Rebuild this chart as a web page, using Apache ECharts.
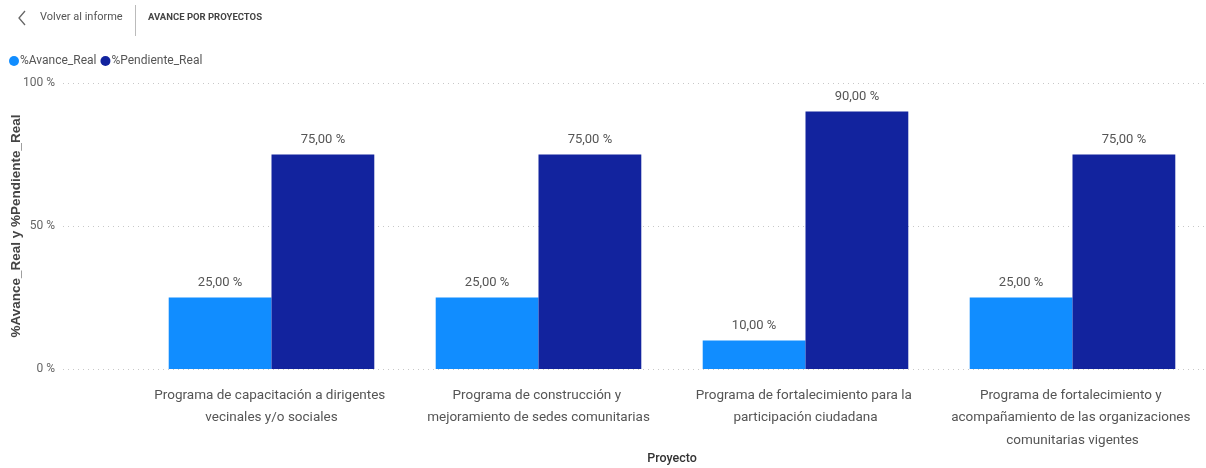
<!DOCTYPE html>
<html>
<head>
<meta charset="utf-8">
<script src="https://cdn.jsdelivr.net/npm/echarts@6/dist/echarts.min.js"></script>
<style>
  html, body { margin: 0; padding: 0; background: #fff; }
  #chart { width: 1206px; height: 468px; }
</style>
</head>
<body>
<div id="chart"></div>
<script>
// Projects (categories) and their progress percentages
const proyectos = [
  'Programa de capacitación a dirigentes vecinales y/o sociales',
  'Programa de construcción y mejoramiento de sedes comunitarias',
  'Programa de fortalecimiento para la participación ciudadana',
  'Programa de fortalecimiento y acompañamiento de las organizaciones comunitarias vigentes'
];
const avanceReal = [25, 25, 10, 25];
const pendienteReal = [75, 75, 90, 75];
const yTicks = [0, 50, 100];

const FONT = 'Roboto, "Open Sans", sans-serif';
const fmtPct = v => v.toFixed(2).replace('.', ',') + ' %';

const chart = echarts.init(document.getElementById('chart'), null, { renderer: 'canvas' });

chart.setOption({
  animation: false,
  textStyle: { fontFamily: FONT },
  legend: {
    left: 4, top: 50,
    icon: 'circle',
    itemWidth: 10, itemHeight: 10, itemGap: 4,
    textStyle: { fontSize: 12, color: '#555', padding: [0, 0, 0, -4] },
    data: ['%Avance_Real', '%Pendiente_Real']
  },
  graphic: [
    { type: 'polyline', shape: { points: [[25, 11], [19, 18], [25, 25]] },
      style: { stroke: '#666', lineWidth: 1.3, fill: null } },
    { type: 'text', left: 40, top: 12,
      style: { text: 'Volver al informe', fontSize: 11, fill: '#555', fontFamily: FONT } },
    { type: 'line', shape: { x1: 135.5, y1: 5, x2: 135.5, y2: 36 },
      style: { stroke: '#bbb', lineWidth: 1 } },
    { type: 'text', left: 148, top: 13,
      style: { text: 'AVANCE POR PROYECTOS', fontSize: 9.5, fontWeight: 'bold', fill: '#444', fontFamily: FONT } }
  ],
  grid: [
    { left: 63, right: 0, top: 83, bottom: 99, outerBoundsMode: 'none' },
    { left: 138, right: 0, top: 83, bottom: 99, outerBoundsMode: 'none' }
  ],
  xAxis: [
    { type: 'value', gridIndex: 0, show: false, min: 0, max: 1 },
    {
      type: 'category', gridIndex: 1, data: proyectos,
      axisLine: { show: false }, axisTick: { show: false },
      axisLabel: {
        interval: 0, width: 262, overflow: 'break', margin: 15,
        fontSize: 13.5, lineHeight: 22.5, color: '#555', align: 'center'
      },
      name: 'Proyecto', nameLocation: 'middle', nameGap: 83, nameMoveOverlap: false,
      nameTextStyle: { fontSize: 12.5, color: '#333', fontWeight: 500 }
    }
  ],
  yAxis: [
    {
      type: 'value', gridIndex: 0, min: 0, max: 100, interval: 50,
      axisLine: { show: false }, axisTick: { show: false },
      axisLabel: {
        margin: 8, fontSize: 12, color: '#666',
        formatter: v => yTicks.includes(v) ? v + ' %' : ''
      },
      splitLine: { lineStyle: { type: [1, 4], color: '#c8c8c8', width: 1 } },
      name: '%Avance_Real y %Pendiente_Real', nameLocation: 'middle', nameGap: 40, nameMoveOverlap: false,
      nameTextStyle: { fontSize: 13.5, color: '#444', fontWeight: 'bold', fontFamily: 'Arial, "Liberation Sans", sans-serif' }
    },
    { type: 'value', gridIndex: 1, min: 0, max: 100, show: false }
  ],
  series: [
    {
      name: '%Avance_Real', type: 'bar', xAxisIndex: 1, yAxisIndex: 1,
      data: avanceReal, barGap: '0%', barCategoryGap: '23%',
      itemStyle: { color: '#118DFF' },
      label: { show: true, position: 'top', distance: 8, fontSize: 13, color: '#555', formatter: p => fmtPct(p.value) }
    },
    {
      name: '%Pendiente_Real', type: 'bar', xAxisIndex: 1, yAxisIndex: 1,
      data: pendienteReal, barGap: '0%', barCategoryGap: '23%',
      itemStyle: { color: '#12239E' },
      label: { show: true, position: 'top', distance: 8, fontSize: 13, color: '#555', formatter: p => fmtPct(p.value) }
    }
  ]
});
</script>
</body>
</html>
